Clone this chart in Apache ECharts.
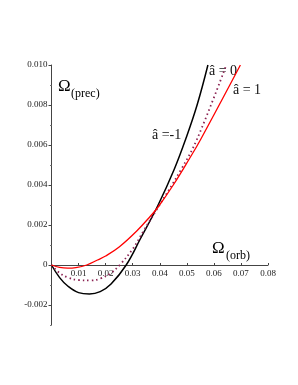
<!DOCTYPE html>
<html><head><meta charset="utf-8">
<script src="https://cdn.jsdelivr.net/npm/echarts@6/dist/echarts.min.js"></script>
<style>html,body{margin:0;padding:0;background:#fff}#c{width:298px;height:385px}</style>
</head><body><div id="c"></div>
<script>
// Data
const blackX = [0, 0.003, 0.006, 0.010, 0.014, 0.018, 0.022, 0.0276, 0.0328, 0.0394, 0.0454, 0.0496, 0.0538, 0.0578];
const blackY = [0, -0.00063, -0.00105, -0.00138, -0.00145, -0.00133, -0.00095, 0, 0.0013, 0.003, 0.0048, 0.0063, 0.0080, 0.0100];
const dotX = [0, 0.003, 0.006, 0.010, 0.0145, 0.018, 0.022, 0.0252, 0.030, 0.034, 0.039, 0.048, 0.0538, 0.0646];
const dotY = [0, -0.0004, -0.00062, -0.00075, -0.00077, -0.00068, -0.0004, 0, 0.0008, 0.0017, 0.0028, 0.0048, 0.0063, 0.0100];
const redX = [0, 0.003, 0.006, 0.009, 0.013, 0.017, 0.020, 0.025, 0.0315, 0.0366, 0.0394, 0.045, 0.0509, 0.055, 0.0698];
const redY = [0, -0.00012, -0.00016, -0.00013, 0, 0.00025, 0.00045, 0.0009, 0.0017, 0.00245, 0.0029, 0.0040, 0.0053, 0.00625, 0.0100];
const yMajorTicks = [-0.002, 0, 0.002, 0.004, 0.006, 0.008, 0.010];
const yMinorTicks = [-0.003, -0.001, 0.001, 0.003, 0.005, 0.007, 0.009];
const curveLabels = ['\u00e2 = 0', '\u00e2 = 1', '\u00e2 =-1'];

const yMin = -0.003, yMax = 0.010;
const gridTop = 65, gridBottom = 60, chartH = 385;
const plotH = chartH - gridTop - gridBottom;
const zeroShift = (0 - yMin) / (yMax - yMin) * plotH;

const pairs = (xs, ys) => xs.map((x, i) => [x, ys[i]]);
const serif = 'Liberation Serif, Times New Roman, serif';
const chart = echarts.init(document.getElementById('c'), null, {renderer: 'canvas'});
chart.setOption({
  animation: false,
  backgroundColor: '#fff',
  grid: {left: 51.5, right: 30, top: gridTop, bottom: gridBottom},
  xAxis: {
    type: 'value', min: 0, max: 0.08, interval: 0.01, position: 'bottom', offset: -zeroShift,
    axisLine: {onZero: false, lineStyle: {color: '#444', width: 1}},
    axisTick: {inside: true, length: 2, lineStyle: {color: '#444'}},
    splitLine: {show: false},
    axisLabel: {color: '#222', fontFamily: serif, fontSize: 9, margin: 4,
      formatter: v => v === 0 ? '' : v.toFixed(2)}
  },
  yAxis: [{
    type: 'value', min: yMin, max: yMax,
    axisLine: {show: true, onZero: false, lineStyle: {color: '#444', width: 1}},
    axisTick: {show: true, length: 3, customValues: yMajorTicks, lineStyle: {color: '#444'}},
    splitLine: {show: false},
    axisLabel: {color: '#222', fontFamily: serif, fontSize: 9, margin: 4,
      customValues: yMajorTicks,
      formatter: v => Math.abs(v) < 1e-12 ? '0' : v.toFixed(3)}
  }, {
    type: 'value', min: yMin, max: yMax, position: 'left', offset: 0,
    axisLine: {show: false},
    axisTick: {show: true, length: 1.5, customValues: yMinorTicks, lineStyle: {color: '#777'}},
    axisLabel: {show: false},
    splitLine: {show: false}
  }],
  series: [
    {type: 'line', data: pairs(blackX, blackY), smooth: 0.4, showSymbol: false,
      lineStyle: {color: '#000', width: 1.5}},
    {type: 'line', data: pairs(dotX, dotY), smooth: 0.4, showSymbol: false,
      lineStyle: {color: '#8b2252', width: 1.8, type: [1.5, 3]}},
    {type: 'line', data: pairs(redX, redY), smooth: 0.4, showSymbol: false,
      lineStyle: {color: '#ff0000', width: 1.3}}
  ],
  graphic: [
    {type: 'text', x: 58, y: 78, style: {text: '\u03a9', font: '17px ' + serif, fill: '#000'}},
    {type: 'text', x: 71, y: 88, style: {text: '(prec)', font: '12px ' + serif, fill: '#000'}},
    {type: 'text', x: 212, y: 240, style: {text: '\u03a9', font: '17px ' + serif, fill: '#000'}},
    {type: 'text', x: 226, y: 250, style: {text: '(orb)', font: '12px ' + serif, fill: '#000'}},
    {type: 'text', x: 209, y: 64, style: {text: curveLabels[0], font: '14px ' + serif, fill: '#111'}},
    {type: 'text', x: 233, y: 83, style: {text: curveLabels[1], font: '14px ' + serif, fill: '#111'}},
    {type: 'text', x: 152, y: 128, style: {text: curveLabels[2], font: '14px ' + serif, fill: '#111'}}
  ]
});
</script></body></html>
